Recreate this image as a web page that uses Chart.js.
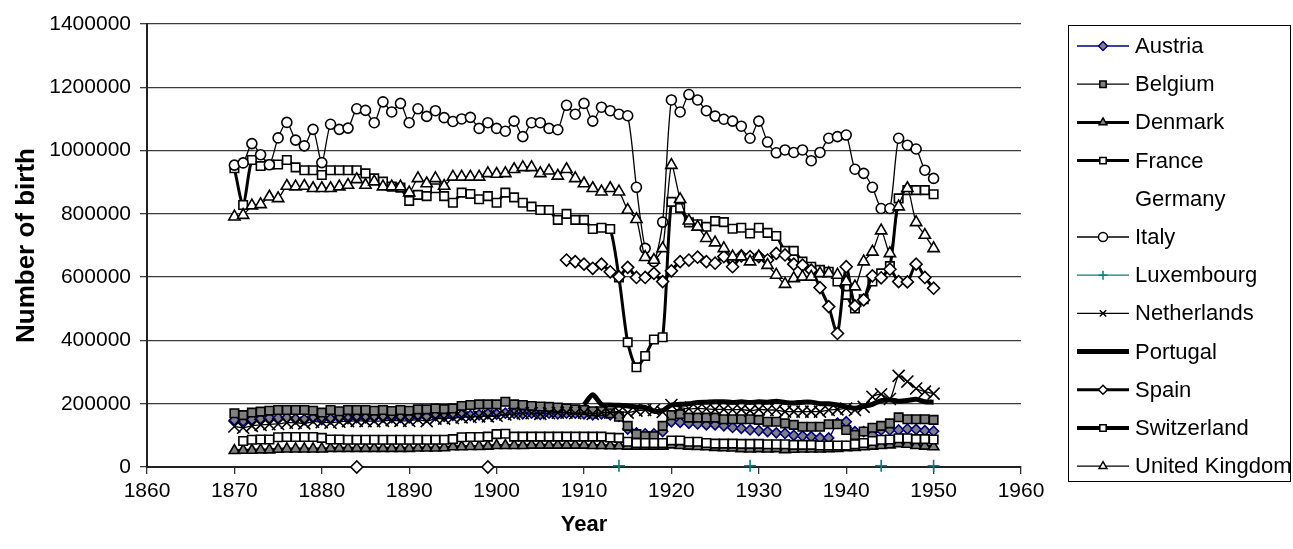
<!DOCTYPE html>
<html>
<head>
<meta charset="utf-8">
<title>Number of birth</title>
<script src="https://cdn.jsdelivr.net/npm/chart.js@4.4.1/dist/chart.umd.min.js"></script>
<style>
  html, body { margin: 0; padding: 0; background: #fff; }
  #wrap { width: 1293px; height: 549px; position: relative; }
</style>
</head>
<body>
<div id="wrap"><canvas id="birthChart"></canvas></div>
<script>
const years = [
  1870, 1871, 1872, 1873, 1874, 1875, 1876, 1877, 1878, 1879,
  1880, 1881, 1882, 1883, 1884, 1885, 1886, 1887, 1888, 1889,
  1890, 1891, 1892, 1893, 1894, 1895, 1896, 1897, 1898, 1899,
  1900, 1901, 1902, 1903, 1904, 1905, 1906, 1907, 1908, 1909,
  1910, 1911, 1912, 1913, 1914, 1915, 1916, 1917, 1918, 1919,
  1920, 1921, 1922, 1923, 1924, 1925, 1926, 1927, 1928, 1929,
  1930, 1931, 1932, 1933, 1934, 1935, 1936, 1937, 1938, 1939,
  1940, 1941, 1942, 1943, 1944, 1945, 1946, 1947, 1948, 1949,
  1950
];

// births per year, in thousands (one row per decade)
const austria = [
  148, 145, 150, 152, 155, 155, 156, 152, 150, 155,
  150, 152, 155, 153, 156, 155, 157, 158, 156, 157,
  155, 160, 158, 162, 160, 163, 165, 163, 165, 168,
  167, 170, 170, 168, 170, 166, 170, 168, 170, 170,
  168, 165, 168, 165, 160, 120, 108, 105, 105, 112,
  143, 141, 138, 136, 133, 133, 130, 125, 122, 117,
  115, 112, 108, 106, 100, 98, 96, 92, 92, 139,
  143, 112, 112, 101, 117, 117, 117, 120, 119, 115,
  113
];
const belgium = [
  170, 164, 172, 175, 178, 180, 180, 180, 180, 178,
  172, 180, 176, 180, 180, 180, 178, 180, 177, 180,
  178, 182, 182, 185, 183, 185, 193, 196, 198, 198,
  198, 206, 198, 196, 193, 191, 190, 188, 185, 182,
  180, 176, 176, 170, 159, 130, 104, 97, 97, 130,
  164, 167, 156, 156, 156, 156, 151, 151, 151, 151,
  149, 143, 143, 138, 133, 127, 127, 127, 135, 135,
  117, 101, 112, 124, 130, 138, 157, 151, 151, 151,
  149
];
const denmark = [
  52, 53, 53, 54, 54, 56, 57, 57, 57, 57,
  57, 59, 59, 59, 59, 59, 59, 59, 59, 59,
  59, 60, 60, 60, 61, 64, 64, 65, 65, 66,
  68, 68, 68, 68, 69, 69, 69, 69, 69, 69,
  69, 68, 68, 67, 67, 66, 66, 66, 66, 66,
  70, 68, 66, 65, 64, 62, 61, 60, 58, 57,
  58, 57, 58, 55, 56, 57, 57, 57, 58, 59,
  61, 62, 64, 66, 68, 70, 74, 72, 68, 66,
  64
];
const france = [
  944, 828, 970, 951, 956, 956, 970, 947, 938, 938,
  923, 938, 938, 938, 938, 928, 912, 902, 886, 883,
  841, 860, 856, 881, 856, 835, 867, 863, 846, 856,
  835, 867, 852, 835, 823, 812, 812, 781, 800, 781,
  781, 752, 756, 752, 599, 394, 315, 351, 403, 410,
  838, 819, 773, 767, 759, 777, 774, 753, 756, 738,
  756, 740, 730, 683, 683, 649, 633, 623, 617, 586,
  544, 501, 530, 586, 612, 635, 849, 875, 875, 875,
  862
];
const germany = [];
const italy = [
  954, 961, 1022, 987, 955, 1040, 1089, 1033, 1015, 1067,
  962, 1083, 1067, 1071, 1132, 1127, 1088, 1154, 1122, 1149,
  1088, 1132, 1108, 1126, 1104, 1092, 1100, 1105, 1070, 1088,
  1070, 1061, 1093, 1044, 1088, 1088, 1070, 1066, 1143, 1115,
  1149, 1093, 1137, 1126, 1115, 1110, 884, 691, 649, 774,
  1160, 1122, 1177, 1160, 1126, 1109, 1099, 1093, 1077, 1039,
  1093, 1027, 993, 1002, 994, 1002, 968, 994, 1039, 1044,
  1049, 941, 928, 884, 817, 817, 1039, 1017, 1005, 938,
  912
];
const luxembourg = [
  null, null, null, null, null, null, null, null, null, null,
  null, null, null, null, null, null, null, null, null, null,
  null, null, null, null, null, null, null, null, null, null,
  null, null, null, null, null, null, null, null, null, null,
  null, null, null, null, 4, null, null, null, null, null,
  null, null, null, null, null, null, null, null, null, 4,
  null, null, null, null, null, null, null, null, null, null,
  null, null, null, null, 4, null, null, null, null, null,
  4
];
const netherlands = [
  128, 124, 130, 133, 135, 136, 140, 140, 138, 143,
  142, 140, 143, 145, 146, 145, 145, 146, 148, 146,
  146, 150, 145, 153, 153, 155, 157, 158, 160, 160,
  162, 166, 168, 170, 170, 168, 170, 172, 172, 170,
  172, 168, 172, 172, 176, 172, 178, 180, 180, 174,
  196, 188, 184, 185, 184, 182, 182, 181, 182, 178,
  182, 180, 180, 175, 175, 175, 175, 175, 180, 182,
  185, 180, 190, 222, 230, 215, 288, 270, 248, 238,
  232
];
const portugal = [
  null, null, null, null, null, null, null, null, null, null,
  null, null, null, null, null, null, null, null, null, null,
  null, null, null, null, null, null, null, null, null, null,
  null, null, null, null, null, null, null, null, null, null,
  196, 228, 198, 196, 195, 193, 190, 188, 176, 178,
  196, 198, 200, 204, 205, 206, 206, 204, 206, 204,
  206, 205, 208, 204, 202, 205, 205, 200, 200, 196,
  190, 186, 192, 198, 210, 212, 208, 210, 214, 206,
  205
];
const spain = [
  null, null, null, null, null, null, null, null, null, null,
  null, null, null, null, 0, null, null, null, null, null,
  null, null, null, null, null, null, null, null, null, 0,
  null, null, null, null, null, null, null, null, 654, 649,
  641, 628, 641, 617, 601, 631, 599, 599, 612, 586,
  620, 649, 654, 663, 649, 644, 665, 633, 667, 665,
  665, 654, 675, 670, 641, 638, 622, 567, 507, 422,
  633, 509, 528, 604, 598, 625, 586, 585, 641, 599,
  565
];
const switzerland = [
  null, 82, 86, 87, 87, 94, 95, 95, 95, 95,
  92, 87, 87, 86, 86, 86, 86, 86, 86, 86,
  86, 86, 86, 86, 86, 88, 94, 95, 95, 96,
  104, 105, 96, 96, 96, 96, 96, 96, 96, 96,
  96, 96, 96, 93, 92, 80, 76, 76, 76, 76,
  84, 84, 80, 80, 76, 74, 74, 74, 73, 73,
  73, 72, 72, 72, 70, 70, 70, 68, 68, 68,
  68, 72, 76, 82, 86, 87, 91, 91, 88, 88,
  87
];
const unitedKingdom = [
  791, 796, 826, 830, 854, 849, 888, 886, 888, 881,
  881, 881, 886, 891, 909, 891, 902, 886, 886, 886,
  867, 912, 896, 912, 888, 917, 917, 917, 917, 928,
  926, 928, 941, 947, 947, 928, 936, 920, 941, 912,
  896, 881, 870, 881, 870, 812, 783, 663, 654, 691,
  954, 846, 778, 759, 723, 709, 691, 665, 665, 649,
  665, 638, 607, 578, 596, 601, 601, 612, 612, 607,
  586, 570, 649, 680, 747, 675, 823, 881, 773, 733,
  691
];

const yTicks = [0, 200000, 400000, 600000, 800000, 1000000, 1200000, 1400000];
const xTicks = [1860, 1870, 1880, 1890, 1900, 1910, 1920, 1930, 1940, 1950, 1960];

const FONT = '"Liberation Sans", Arial, sans-serif';

// line and marker look for each country, Excel style
const series = [
  { label: 'Austria', values: austria, line: '#000080', width: 1.3, point: 'rectRot', radius: 5, fill: '#808080', edge: '#000080' },
  { label: 'Belgium', values: belgium, line: '#000', width: 1.3, point: 'rect', radius: 6, fill: '#808080', edge: '#000' },
  { label: 'Denmark', values: denmark, line: '#000', width: 3, point: 'triangle', radius: 6, fill: '#808080', edge: '#000' },
  { label: 'France', values: france, line: '#000', width: 3, point: 'rect', radius: 6, fill: '#fff', edge: '#000' },
  { label: 'Germany', values: germany, line: 'rgba(0,0,0,0)', width: 0, point: false },
  { label: 'Italy', values: italy, line: '#000', width: 1.3, point: 'circle', radius: 5, fill: '#fff', edge: '#000' },
  { label: 'Luxembourg', values: luxembourg, line: '#008080', width: 1.3, point: 'cross', radius: 6, fill: '#008080', edge: '#008080' },
  { label: 'Netherlands', values: netherlands, line: '#000', width: 1.3, point: 'crossRot', radius: 8.5, fill: '#000', edge: '#000' },
  { label: 'Portugal', values: portugal, line: '#000', width: 5, point: false },
  { label: 'Spain', values: spain, line: '#000', width: 3, point: 'rectRot', radius: 6, fill: '#fff', edge: '#000' },
  { label: 'Switzerland', values: switzerland, line: '#000', width: 4, point: 'rect', radius: 6, fill: '#fff', edge: '#000' },
  { label: 'United Kingdom', values: unitedKingdom, line: '#000', width: 1.3, point: 'triangle', radius: 6.5, fill: '#fff', edge: '#000' }
];

const datasets = series.map((s, i) => ({
  label: s.label,
  data: s.values.map(v => (v === null ? null : v * 1000)),
  borderColor: s.line,
  borderWidth: s.width,
  pointStyle: s.point || 'circle',
  pointRadius: s.point ? s.radius : 0,
  pointHoverRadius: s.point ? s.radius : 0,
  pointBackgroundColor: s.fill || '#fff',
  pointBorderColor: s.edge || '#000',
  pointBorderWidth: 1.6,
  tension: 0.25,
  clip: false,
  // later series sit on top, like the spreadsheet draws them
  order: series.length - i
}));

// boxed legend on the right: line sample with the marker in the middle
const sideLegend = {
  id: 'sideLegend',
  afterDraw(chart) {
    const ctx = chart.ctx;
    const box = { x: 1068.5, y: 25.5, w: 222, h: 456 };
    ctx.save();
    ctx.strokeStyle = '#000';
    ctx.lineWidth = 1;
    ctx.strokeRect(box.x, box.y, box.w, box.h);
    ctx.font = '22px ' + FONT;
    ctx.textBaseline = 'middle';
    ctx.textAlign = 'left';
    series.forEach((s, i) => {
      const y = 46 + i * 38.2;
      if (s.width > 0) {
        ctx.strokeStyle = s.line;
        ctx.lineWidth = s.width;
        ctx.beginPath();
        ctx.moveTo(1077, y);
        ctx.lineTo(1129, y);
        ctx.stroke();
      }
      if (s.point) {
        ctx.fillStyle = s.fill;
        ctx.strokeStyle = s.edge;
        ctx.lineWidth = 1.5;
        Chart.helpers.drawPoint(ctx, { pointStyle: s.point, rotation: 0, radius: 4.5, borderWidth: 1.5 }, 1103, y);
      }
      ctx.fillStyle = '#000';
      ctx.fillText(s.label, 1135, y + 1);
    });
    ctx.restore();
  }
};

new Chart(document.getElementById('birthChart'), {
  type: 'line',
  data: { labels: years, datasets: datasets },
  plugins: [sideLegend],
  options: {
    responsive: true,
    maintainAspectRatio: false,
    animation: false,
    layout: { padding: { top: 24, right: 272, bottom: 0, left: 0 } },
    plugins: {
      legend: { display: false },
      tooltip: { enabled: false }
    },
    scales: {
      x: {
        type: 'linear',
        min: 1860,
        max: 1960,
        afterBuildTicks: (scale) => { scale.ticks = xTicks.map(v => ({ value: v })); },
        afterFit: (scale) => { scale.height = 82; },
        ticks: {
          color: '#000',
          font: { family: FONT, size: 21 },
          padding: 5,
          maxRotation: 0,
          callback: (v) => String(v)
        },
        grid: { drawOnChartArea: false, drawTicks: true, tickLength: 7, color: '#333', lineWidth: 1.3 },
        border: { display: true, color: '#222', width: 2 },
        title: {
          display: true,
          text: 'Year',
          color: '#000',
          font: { family: FONT, size: 22, weight: 'bold' },
          padding: { top: 0, bottom: 11 }
        }
      },
      y: {
        min: 0,
        max: 1400000,
        afterBuildTicks: (scale) => { scale.ticks = yTicks.map(v => ({ value: v })); },
        afterFit: (scale) => { scale.width = 147; },
        ticks: {
          color: '#000',
          font: { family: FONT, size: 21 },
          padding: 9,
          callback: (v) => String(v)
        },
        grid: { color: '#3c3c3c', lineWidth: 1.3, tickLength: 7 },
        border: { display: true, color: '#222', width: 2 },
        title: {
          display: true,
          text: 'Number of birth',
          color: '#000',
          font: { family: FONT, size: 26, weight: 'bold' },
          padding: { top: 11, bottom: 0 }
        }
      }
    }
  }
});
</script>
</body>
</html>
